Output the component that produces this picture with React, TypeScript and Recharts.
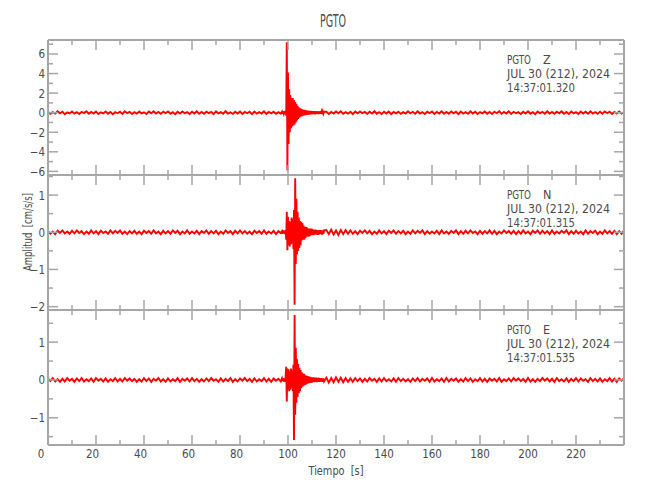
import { LineChart, Line, XAxis, YAxis } from "recharts";

// sample values (cm/s/s), quiet parts every 1 s, the event every 0.25 s
const zPre = [
  0.08, -0.12, 0.05, -0.09, 0.14, -0.06, 0.1, -0.15, 0.03, -0.08,
  0.12, -0.1, 0.06, -0.13, 0.09, -0.04, 0.15, -0.11, 0.07, -0.09,
  0.11, -0.14, 0.04, -0.07, 0.13, -0.1, 0.08, -0.16, 0.05, -0.06,
  0.1, -0.12, 0.14, -0.05, 0.09, -0.13, 0.06, -0.1, 0.12, -0.08,
  0.04, -0.14, 0.11, -0.07, 0.15, -0.09, 0.07, -0.12, 0.1, -0.05,
  0.13, -0.11, 0.06, -0.15, 0.09, -0.08, 0.12, -0.06, 0.05, -0.13,
  0.1, -0.09, 0.14, -0.1, 0.07, -0.12, 0.11, -0.04, 0.08, -0.14,
  0.13, -0.07, 0.06, -0.11, 0.15, -0.09, 0.04, -0.12, 0.1, -0.08,
  0.12, -0.13, 0.07, -0.06, 0.09, -0.15, 0.11, -0.1, 0.05, -0.09,
  0.14, -0.12, 0.08, -0.07, 0.1, -0.11, 0.06, -0.1,
];
const zEvent = [
  0.1, -0.12, 0.14, -0.1, 0.12, -0.15, 0.2, -0.3, 7.2, -5.9,
  4.1, -3.2, 2.4, -2.0, 1.8, -1.6, 1.5, -1.4, 1.5, -1.3,
  1.3, -1.2, 1.1, -1.0, 0.9, -0.8, 0.7, -0.65, 0.55, -0.5,
  0.45, -0.4, 0.4, -0.35, 0.35, -0.3, 0.3, -0.28, 0.28, -0.25,
  0.24, -0.22, 0.22, -0.2, 0.2, -0.2, 0.18, -0.17, 0.18, -0.17,
  0.16, -0.15, 0.15, -0.14, 0.14, -0.16, 0.13, -0.12, 0.15, -0.13,
  0.12, -0.14, 0.13, -0.11, 0.14, -0.12, 0.1, -0.13, 0.12, -0.1,
  0.11,
];
const zPost = [
  0.1, -0.13, 0.07, -0.09, 0.12, -0.06, 0.14, -0.11, 0.05, -0.1,
  0.09, -0.14, 0.11, -0.07, 0.13, -0.05, 0.08, -0.12, 0.1, -0.09,
  0.15, -0.1, 0.06, -0.13, 0.09, -0.08, 0.12, -0.15, 0.07, -0.06,
  0.11, -0.12, 0.05, -0.1, 0.14, -0.07, 0.09, -0.11, 0.13, -0.09,
  0.06, -0.14, 0.1, -0.05, 0.12, -0.13, 0.08, -0.08, 0.15, -0.11,
  0.07, -0.1, 0.13, -0.06, 0.09, -0.15, 0.11, -0.09, 0.05, -0.12,
  0.14, -0.08, 0.1, -0.13, 0.06, -0.07, 0.12, -0.1, 0.08, -0.14,
  0.11, -0.05, 0.15, -0.11, 0.07, -0.09, 0.13, -0.12, 0.09, -0.06,
  0.05, -0.13, 0.1, -0.08, 0.14, -0.1, 0.06, -0.15, 0.12, -0.07,
  0.09, -0.11, 0.13, -0.09, 0.08, -0.12, 0.1, -0.06, 0.15, -0.1,
  0.07, -0.14, 0.11, -0.07, 0.05, -0.13, 0.12, -0.09, 0.1, -0.11,
  0.14, -0.08, 0.06, -0.12, 0.09, -0.1, 0.13, -0.05, 0.11, -0.13,
  0.08, -0.09, 0.12, -0.1, 0.07,
];

const nPre = [
  0.03, -0.04, 0.02, -0.05, 0.04, -0.02, 0.05, -0.03, 0.02, -0.04,
  0.04, -0.03, 0.05, -0.02, 0.03, -0.05, 0.02, -0.04, 0.05, -0.03,
  0.03, -0.05, 0.04, -0.02, 0.02, -0.04, 0.05, -0.03, 0.04, -0.02,
  0.05, -0.04, 0.02, -0.05, 0.03, -0.03, 0.04, -0.04, 0.02, -0.05,
  0.04, -0.02, 0.03, -0.04, 0.05, -0.03, 0.02, -0.05, 0.04, -0.03,
  0.03, -0.04, 0.05, -0.02, 0.04, -0.05, 0.02, -0.03, 0.05, -0.04,
  0.02, -0.03, 0.04, -0.05, 0.03, -0.02, 0.05, -0.04, 0.03, -0.03,
  0.04, -0.05, 0.02, -0.04, 0.05, -0.02, 0.03, -0.05, 0.04, -0.03,
  0.05, -0.03, 0.03, -0.04, 0.02, -0.05, 0.04, -0.02, 0.03, -0.04,
  0.05, -0.04, 0.02, -0.03, 0.04, -0.05, 0.03, -0.02,
];
const nEvent = [
  0.03, -0.04, 0.05, -0.03, 0.04, -0.05, 0.06, -0.2, 0.55, -0.48,
  0.42, -0.35, 0.3, -0.38, 0.28, -0.32, 0.4, -0.3, 0.35, -0.45,
  0.6, -1.95, 1.45, -0.85, 0.9, -0.6, 0.55, -0.5, 0.4, -0.42,
  0.3, -0.35, 0.28, -0.22, 0.25, -0.2, 0.18, -0.2, 0.15, -0.16,
  0.14, -0.12, 0.13, -0.12, 0.1, -0.11, 0.1, -0.09, 0.1, -0.08,
  0.09, -0.08, 0.07, -0.08, 0.07, -0.06, 0.07, -0.06, 0.06, -0.07,
  0.05, -0.06, 0.06, -0.05, 0.06, -0.05, 0.05, -0.06, 0.05, -0.04,
  0.05,
];
const nPost = [
  0.06, -0.05, 0.07, -0.06, 0.05, -0.07, 0.06, -0.05, 0.06, -0.04,
  0.05, -0.04, 0.03, -0.05, 0.04, -0.02, 0.05, -0.03, 0.04, -0.05,
  0.02, -0.04, 0.05, -0.03, 0.03, -0.05, 0.04, -0.02, 0.05, -0.04,
  0.03, -0.03, 0.04, -0.05, 0.02, -0.04, 0.05, -0.03, 0.04, -0.02,
  0.05, -0.05, 0.03, -0.04, 0.02, -0.03, 0.04, -0.05, 0.05, -0.03,
  0.02, -0.04, 0.04, -0.02, 0.05, -0.05, 0.03, -0.04, 0.04, -0.03,
  0.05, -0.02, 0.02, -0.05, 0.04, -0.04, 0.03, -0.03, 0.05, -0.04,
  0.04, -0.05, 0.02, -0.03, 0.05, -0.02, 0.03, -0.04, 0.04, -0.05,
  0.03, -0.04, 0.05, -0.03, 0.02, -0.05, 0.04, -0.02, 0.05, -0.04,
  0.04, -0.03, 0.03, -0.05, 0.05, -0.04, 0.02, -0.03, 0.04, -0.02,
  0.05, -0.05, 0.03, -0.04, 0.04, -0.03, 0.02, -0.05, 0.05, -0.04,
  0.03, -0.02, 0.04, -0.05, 0.02, -0.04, 0.05, -0.03, 0.03, -0.04,
  0.04, -0.05, 0.03, -0.04, 0.05,
];

const ePre = [
  0.04, -0.03, 0.05, -0.04, 0.02, -0.05, 0.03, -0.04, 0.05, -0.02,
  0.03, -0.05, 0.04, -0.03, 0.05, -0.04, 0.02, -0.03, 0.04, -0.05,
  0.05, -0.02, 0.03, -0.04, 0.04, -0.05, 0.02, -0.03, 0.05, -0.04,
  0.03, -0.04, 0.05, -0.02, 0.04, -0.03, 0.03, -0.05, 0.02, -0.04,
  0.05, -0.03, 0.04, -0.05, 0.03, -0.02, 0.05, -0.04, 0.02, -0.05,
  0.04, -0.04, 0.02, -0.03, 0.05, -0.05, 0.03, -0.02, 0.04, -0.04,
  0.05, -0.03, 0.03, -0.05, 0.02, -0.04, 0.04, -0.03, 0.05, -0.02,
  0.02, -0.05, 0.04, -0.04, 0.03, -0.03, 0.05, -0.05, 0.02, -0.04,
  0.04, -0.02, 0.05, -0.03, 0.03, -0.05, 0.04, -0.04, 0.02, -0.03,
  0.05, -0.04, 0.03, -0.05, 0.04, -0.02, 0.03, -0.04,
];
const eEvent = [
  0.04, -0.03, 0.05, -0.04, 0.03, -0.05, 0.08, 0.35, -0.57, 0.3,
  -0.25, 0.28, -0.3, 0.22, -0.26, 0.3, -0.2, 0.25, -0.3, 0.4,
  -1.59, 1.72, -0.92, 0.85, -0.6, 0.55, -0.45, 0.42, -0.35, 0.32,
  -0.3, 0.26, -0.22, 0.2, -0.18, 0.17, -0.15, 0.16, -0.13, 0.12,
  -0.12, 0.11, -0.1, 0.1, -0.09, 0.09, -0.08, 0.08, -0.08, 0.07,
  -0.07, 0.07, -0.06, 0.07, -0.06, 0.06, -0.05, 0.06, -0.06, 0.05,
  -0.05, 0.06, -0.05, 0.05, -0.04, 0.05, -0.05, 0.04, -0.05, 0.04,
  -0.04,
];
const ePost = [
  0.06, -0.07, 0.05, -0.06, 0.07, -0.05, 0.06, -0.06, 0.05, -0.05,
  0.04, -0.05, 0.05, -0.03, 0.04, -0.05, 0.03, -0.04, 0.05, -0.02,
  0.03, -0.05, 0.04, -0.04, 0.05, -0.03, 0.02, -0.04, 0.04, -0.05,
  0.05, -0.03, 0.03, -0.04, 0.02, -0.05, 0.04, -0.03, 0.05, -0.04,
  0.03, -0.02, 0.04, -0.05, 0.05, -0.04, 0.02, -0.03, 0.04, -0.05,
  0.05, -0.04, 0.03, -0.02, 0.04, -0.05, 0.02, -0.04, 0.05, -0.03,
  0.04, -0.05, 0.02, -0.03, 0.05, -0.04, 0.03, -0.05, 0.04, -0.02,
  0.03, -0.04, 0.05, -0.05, 0.02, -0.03, 0.04, -0.04, 0.05, -0.02,
  0.04, -0.03, 0.03, -0.05, 0.05, -0.04, 0.02, -0.05, 0.03, -0.03,
  0.05, -0.02, 0.04, -0.04, 0.03, -0.05, 0.05, -0.03, 0.02, -0.04,
  0.04, -0.05, 0.03, -0.03, 0.05, -0.04, 0.04, -0.02, 0.02, -0.05,
  0.05, -0.03, 0.03, -0.04, 0.04, -0.05, 0.02, -0.03, 0.05, -0.04,
  0.03, -0.05, 0.04, -0.02, 0.05,
];

const xTicks = [0, 10, 20, 30, 40, 50, 60, 70, 80, 90, 100, 110, 120, 130, 140, 150, 160, 170, 180, 190, 200, 210, 220, 230];
const xMajor = [0, 20, 40, 60, 80, 100, 120, 140, 160, 180, 200, 220];

const zTicks = [-6, -5, -4, -3, -2, -1, 0, 1, 2, 3, 4, 5, 6, 7];
const zMajor = [-6, -4, -2, 0, 2, 4, 6];
const nTicks = [-2, -1.5, -1, -0.5, 0, 0.5, 1, 1.5];
const nMajor = [-2, -1, 0, 1];
const eTicks = [-1.5, -1, -0.5, 0, 0.5, 1, 1.5];
const eMajor = [-1, 0, 1];

const stationName = "PGTO";
const dateLine = "JUL 30 (212), 2024";
const channels = ["Z", "N", "E"];
const startTimes = ["14:37:01.320", "14:37:01.315", "14:37:01.535"];

// sample times: 1 s before/after the event window, 0.25 s inside it
const rows = [
  ...zPre.map((z, i) => ({ t: i, z, n: nPre[i], e: ePre[i] })),
  ...zEvent.map((z, i) => ({ t: 97.5 + i * 0.25, z, n: nEvent[i], e: eEvent[i] })),
  ...zPost.map((z, i) => ({ t: 116 + i, z, n: nPost[i], e: ePost[i] })),
];

const FONT = "'DejaVu Sans Condensed', 'DejaVu Sans', sans-serif";
const AXIS = "#a6a6a6";
const INK = "#4a4a4a";

const fmt = (v: number) => (v < 0 ? `\u2212${-v}` : `${v}`);

function yTick(side: "left" | "right", majors: number[]) {
  return (props: any) => {
    const { x, y, payload } = props;
    const big = majors.includes(payload.value);
    const dir = side === "left" ? 1 : -1;
    return (
      <g>
        <line x1={x} x2={x + dir * (big ? 10 : 5)} y1={y} y2={y} stroke={AXIS} strokeWidth={1.5} />
        {side === "left" && big && (
          <text x={x - 3} y={y} dy={4.5} textAnchor="end" fontSize={11.5} fill={INK} fontFamily={FONT}>
            {fmt(payload.value)}
          </text>
        )}
      </g>
    );
  };
}

function xTick(side: "top" | "bottom", labels: boolean) {
  return (props: any) => {
    const { x, y, payload } = props;
    const big = xMajor.includes(payload.value);
    const dir = side === "top" ? 1 : -1;
    const label = String(payload.value);
    return (
      <g>
        <line x1={x} x2={x} y1={y} y2={y + dir * (big ? 10 : 5)} stroke={AXIS} strokeWidth={1.5} />
        {labels && big && (
          <text x={x + (label.length - 3) * 3.5} y={y + 13} textAnchor="middle" fontSize={11.5} fill={INK} fontFamily={FONT}>
            {label}
          </text>
        )}
      </g>
    );
  };
}

const panels = [
  { key: "z", top: 40, bottom: 175, domain: [-6.37, 7.43], ticks: zTicks, majors: zMajor },
  { key: "n", top: 175, bottom: 310, domain: [-2.09, 1.54], ticks: nTicks, majors: nMajor },
  { key: "e", top: 310, bottom: 445, domain: [-1.72, 1.85], ticks: eTicks, majors: eMajor },
];

export default function App() {
  return (
    <div style={{ position: "absolute", left: 0, top: 0, width: 650, height: 500, background: "#fff", fontFamily: FONT }}>
      {panels.map((p, idx) => (
        <div key={p.key} style={{ position: "absolute", left: 0, top: 0 }}>
          <LineChart
            width={650}
            height={500}
            data={rows}
            margin={{ top: p.top - 1, bottom: 500 - p.bottom - 1, left: 47, right: 25 }}
          >
            <XAxis
              xAxisId="b"
              dataKey="t"
              type="number"
              domain={[0, 240]}
              ticks={xTicks}
              height={1}
              tickSize={0}
              tickMargin={0}
              tickLine={false}
              axisLine={{ stroke: AXIS, strokeWidth: 2 }}
              tick={xTick("bottom", idx === 2)}
              interval={0}
            />
            <XAxis
              xAxisId="t"
              orientation="top"
              dataKey="t"
              type="number"
              domain={[0, 240]}
              ticks={xTicks}
              height={1}
              tickSize={0}
              tickMargin={0}
              tickLine={false}
              axisLine={{ stroke: AXIS, strokeWidth: 2 }}
              tick={xTick("top", false)}
              interval={0}
            />
            <YAxis
              yAxisId="l"
              type="number"
              domain={p.domain}
              allowDataOverflow
              ticks={p.ticks}
              width={1}
              tickSize={0}
              tickMargin={0}
              tickLine={false}
              axisLine={{ stroke: AXIS, strokeWidth: 2 }}
              tick={yTick("left", p.majors)}
              interval={0}
            />
            <YAxis
              yAxisId="r"
              orientation="right"
              type="number"
              domain={p.domain}
              allowDataOverflow
              ticks={p.ticks}
              width={1}
              tickSize={0}
              tickMargin={0}
              tickLine={false}
              axisLine={{ stroke: AXIS, strokeWidth: 2 }}
              tick={yTick("right", p.majors)}
              interval={0}
            />
            <Line
              xAxisId="b"
              yAxisId="l"
              dataKey={p.key}
              type="linear"
              stroke="#ff0000"
              strokeWidth={1.9}
              dot={false}
              isAnimationActive={false}
            />
          </LineChart>
        </div>
      ))}
      <svg width={650} height={500} style={{ position: "absolute", left: 0, top: 0, pointerEvents: "none" }}>
        <text x={333} y={27} textAnchor="middle" fontSize={18} fill={INK} fontFamily={FONT} textLength={26} lengthAdjust="spacingAndGlyphs">
          {stationName}
        </text>
        <text
          transform="translate(32,232) rotate(-90)"
          textAnchor="middle"
          fontSize={13}
          fill={INK}
          fontFamily={FONT}
          textLength={78}
          lengthAdjust="spacingAndGlyphs"
          style={{ whiteSpace: "pre" }}
        >
          {"Amplitud  [cm/s/s]"}
        </text>
        <text
          x={336}
          y={475}
          textAnchor="middle"
          fontSize={13}
          fill={INK}
          fontFamily={FONT}
          textLength={55}
          lengthAdjust="spacingAndGlyphs"
          style={{ whiteSpace: "pre" }}
        >
          {"Tiempo  [s]"}
        </text>
        {panels.map((p, i) => (
          <g key={p.key} fontSize={12.5} fill={INK} fontFamily={FONT}>
            <text x={507} y={p.top + 24} textLength={24} lengthAdjust="spacingAndGlyphs">{stationName}</text>
            <text x={543} y={p.top + 24}>{channels[i]}</text>
            <text x={507} y={p.top + 38} textLength={103} lengthAdjust="spacingAndGlyphs">{dateLine}</text>
            <text x={507} y={p.top + 52} textLength={68} lengthAdjust="spacingAndGlyphs">{startTimes[i]}</text>
          </g>
        ))}
      </svg>
    </div>
  );
}
